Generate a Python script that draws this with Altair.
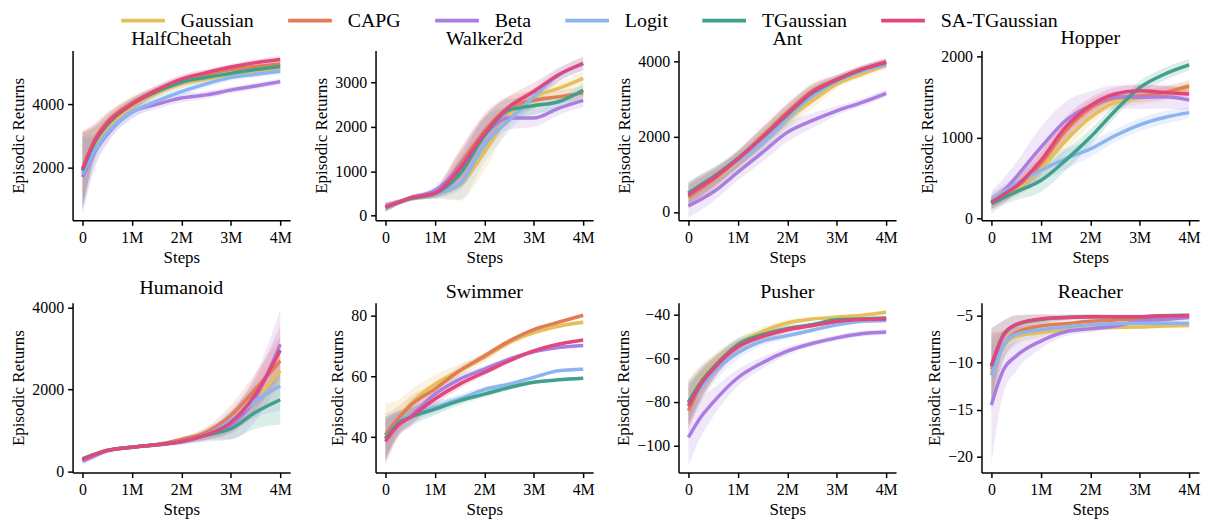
import altair as alt
import pandas as pd

ALGOS = ["Gaussian", "CAPG", "Beta", "Logit", "TGaussian", "SA-TGaussian"]
COLORS = ["#E6BE5A", "#E07D55", "#AA7DE0", "#8CB4F0", "#3FA08C", "#E1467D"]
ENVS = ["HalfCheetah", "Walker2d", "Ant", "Hopper", "Humanoid", "Swimmer", "Pusher", "Reacher"]

# steps in millions
STEPS = [0, 0.25, 0.5, 1, 1.5, 2, 2.5, 3, 3.5, 4]

HALFCHEETAH = {
    "Gaussian": [1900, 2750, 3250, 3950, 4350, 4650, 4800, 4950, 5050, 5120],
    "CAPG": [1950, 2900, 3450, 4050, 4450, 4750, 4950, 5100, 5200, 5280],
    "Beta": [1700, 2500, 3050, 3750, 4000, 4200, 4300, 4450, 4580, 4720],
    "Logit": [1800, 2550, 3100, 3750, 4100, 4400, 4650, 4850, 4950, 5050],
    "TGaussian": [1900, 2800, 3350, 4000, 4400, 4700, 4850, 4980, 5100, 5200],
    "SA-TGaussian": [1950, 2850, 3400, 4000, 4450, 4800, 5000, 5180, 5320, 5420],
}
WALKER2D = {
    "Gaussian": [190, 290, 380, 480, 680, 1420, 2250, 2680, 2870, 3100],
    "CAPG": [190, 290, 390, 500, 1150, 1900, 2450, 2600, 2680, 2770],
    "Beta": [170, 290, 390, 560, 1080, 1820, 2200, 2200, 2420, 2600],
    "Logit": [190, 290, 380, 480, 700, 1600, 2150, 2680, 3165, 3420],
    "TGaussian": [190, 290, 380, 490, 930, 1800, 2380, 2480, 2570, 2830],
    "SA-TGaussian": [190, 290, 390, 500, 1050, 1850, 2450, 2800, 3180, 3440],
}
ANT = {
    "Gaussian": [440, 650, 850, 1350, 1900, 2460, 2940, 3385, 3650, 3885],
    "CAPG": [395, 620, 850, 1400, 2020, 2640, 3210, 3515, 3780, 3980],
    "Beta": [160, 330, 530, 1055, 1580, 2110, 2420, 2680, 2900, 3147],
    "Logit": [510, 720, 920, 1360, 1850, 2500, 3080, 3470, 3735, 3910],
    "TGaussian": [500, 720, 930, 1420, 1980, 2580, 3150, 3500, 3770, 3960],
    "SA-TGaussian": [450, 680, 890, 1400, 1980, 2600, 3170, 3510, 3780, 3970],
}
HOPPER = {
    "Gaussian": [200, 290, 370, 615, 960, 1250, 1435, 1490, 1540, 1620],
    "CAPG": [200, 300, 390, 676, 1085, 1365, 1490, 1517, 1560, 1640],
    "Beta": [200, 340, 512, 880, 1210, 1395, 1505, 1500, 1505, 1465],
    "Logit": [235, 330, 430, 595, 740, 860, 1025, 1160, 1250, 1310],
    "TGaussian": [185, 260, 330, 470, 720, 1005, 1330, 1620, 1785, 1900],
    "SA-TGaussian": [200, 300, 400, 717, 1130, 1395, 1540, 1580, 1560, 1540],
}
HUMANOID = {
    "Gaussian": [305, 420, 520, 600, 660, 740, 900, 1180, 1770, 2470],
    "CAPG": [305, 420, 520, 600, 665, 790, 965, 1370, 2010, 2700],
    "Beta": [260, 390, 510, 600, 655, 740, 895, 1130, 1800, 3100],
    "Logit": [305, 420, 520, 600, 660, 740, 900, 1250, 1730, 2090],
    "TGaussian": [310, 430, 525, 600, 660, 740, 890, 1050, 1450, 1755],
    "SA-TGaussian": [305, 420, 520, 600, 660, 740, 900, 1200, 1890, 2960],
}
SWIMMER = {
    "Gaussian": [40.5, 46, 50.9, 57.4, 61.8, 66.1, 71, 74.3, 76.4, 77.7],
    "CAPG": [40.8, 46, 50.3, 55.8, 61.8, 66.6, 71.5, 75.3, 77.7, 80],
    "Beta": [39.5, 44.8, 47, 54.1, 59, 62.3, 65.6, 68, 69.4, 70.1],
    "Logit": [39.5, 44.4, 47.1, 49.8, 52.5, 55.6, 57.4, 59.6, 61.8, 62.3],
    "TGaussian": [39.5, 44.4, 46.5, 49.2, 52, 54.1, 56.3, 58, 58.8, 59.3],
    "SA-TGaussian": [38.6, 43.8, 46.5, 52.5, 57.4, 61.2, 65, 68.3, 70.5, 71.9],
}
PUSHER = {
    "Gaussian": [-80, -70, -63.5, -53.7, -47.6, -43.8, -42, -41.1, -40.3, -38.9],
    "CAPG": [-84, -72.7, -65, -54.7, -49.9, -46.8, -45, -43, -42.3, -42],
    "Beta": [-96.2, -87, -80.2, -68.9, -62, -56.7, -53.2, -50.6, -48.7, -47.9],
    "Logit": [-81, -73.4, -66.6, -57.5, -52.1, -49.6, -47.1, -44.6, -43, -42.6],
    "TGaussian": [-80.2, -71, -64.3, -53.7, -49.1, -46.4, -44.6, -42.3, -42, -41.5],
    "SA-TGaussian": [-82, -72, -65, -54.7, -49.9, -46.8, -45, -43, -42.2, -42],
}
REACHER = {
    "Gaussian": [-11, -8.2, -7.2, -6.8, -6.5, -6.3, -6.25, -6.2, -6.1, -6.05],
    "CAPG": [-10.7, -8.1, -6.8, -6.1, -5.85, -5.6, -5.45, -5.35, -5.2, -5.07],
    "Beta": [-14.5, -10.7, -9.3, -7.7, -6.7, -6.4, -6.1, -5.6, -5.4, -5.2],
    "Logit": [-11.35, -8.1, -7, -6.5, -6.2, -5.95, -5.85, -5.8, -5.8, -5.8],
    "TGaussian": [-10.4, -7, -5.95, -5.4, -5.2, -5.1, -5.1, -5.1, -5.0, -4.95],
    "SA-TGaussian": [-10.3, -7, -5.95, -5.35, -5.2, -5.1, -5.1, -5.1, -5.0, -5.0],
}

# half-width of the shaded band at each step
SPREAD = {
    "HalfCheetah": [1200, 500, 300, 200, 150, 140, 120, 100, 100, 100],
    "Walker2d": [100, 60, 60, 100, 350, 400, 250, 200, 150, 150],
    "Ant": [300, 280, 250, 220, 250, 250, 200, 120, 100, 100],
    "Hopper": [80, 90, 100, 140, 130, 100, 80, 80, 80, 70],
    "Humanoid": [60, 50, 40, 30, 30, 60, 120, 250, 400, 600],
    "Swimmer": [7, 4, 3, 2, 1.5, 1, 0.8, 0.6, 0.5, 0.5],
    "Pusher": [10, 7, 5, 3, 2, 1.5, 1, 1, 1, 1],
    "Reacher": [4, 1.5, 1, 0.5, 0.3, 0.25, 0.2, 0.2, 0.2, 0.2],
}
SPREAD_SCALE = {
    ("Hopper", "Beta"): 1.8,
    ("Reacher", "Beta"): 1.6,
    ("Pusher", "Beta"): 1.3,
    ("Humanoid", "Beta"): 1.4,
    ("Swimmer", "Gaussian"): 1.5,
}

Y_DOMAIN = {
    "HalfCheetah": [336, 5705],
    "Walker2d": [-112, 3730],
    "Ant": [-219, 4282],
    "Hopper": [-21, 2079],
    "Humanoid": [-17, 4113],
    "Swimmer": [28.35, 84.1],
    "Pusher": [-112.4, -34.5],
    "Reacher": [-21.7, -3.62],
}
Y_TICKS = {
    "HalfCheetah": [2000, 4000],
    "Walker2d": [0, 1000, 2000, 3000],
    "Ant": [0, 2000, 4000],
    "Hopper": [0, 1000, 2000],
    "Humanoid": [0, 2000, 4000],
    "Swimmer": [40, 60, 80],
    "Pusher": [-100, -80, -60, -40],
    "Reacher": [-20, -15, -10, -5],
}
X_TICKS = [0, 1, 2, 3, 4]

DATA = {
    "HalfCheetah": HALFCHEETAH, "Walker2d": WALKER2D, "Ant": ANT, "Hopper": HOPPER,
    "Humanoid": HUMANOID, "Swimmer": SWIMMER, "Pusher": PUSHER, "Reacher": REACHER,
}

rows = []
for env in ENVS:
    for algo in ALGOS:
        k = SPREAD_SCALE.get((env, algo), 1.0)
        for s, m, sp in zip(STEPS, DATA[env][algo], SPREAD[env]):
            rows.append({"env": env, "algo": algo, "step": s, "mean": m,
                         "lo": m - sp * k, "hi": m + sp * k})
df = pd.DataFrame(rows)

FONT = "Liberation Serif"

LEGEND = alt.Legend(
    title=None, orient="none", legendX=47, legendY=0, direction="horizontal",
    symbolType="stroke", symbolSize=1936, symbolStrokeWidth=4, symbolOpacity=1,
    labelFontSize=20, labelFont=FONT, labelOffset=14, columnPadding=32,
    labelColor="black", padding=0, clipHeight=22,
)

# legend-only holder (no rows pass the filter, the legend comes from the scale domain)
legend_chart = alt.Chart(df).transform_filter("false").mark_point().encode(
    x=alt.value(0), y=alt.value(0),
    stroke=alt.Stroke("algo:N", scale=alt.Scale(domain=ALGOS, range=COLORS), legend=LEGEND),
).properties(width=1, height=1)

panels = []
for env in ENVS:
    base = alt.Chart(df).transform_filter(alt.datum.env == env)
    x = alt.X(
        "step:Q",
        scale=alt.Scale(domain=[-0.2, 4.2], nice=False, zero=False),
        axis=alt.Axis(values=X_TICKS, labelExpr="datum.value == 0 ? '0' : datum.value + 'M'",
                      title="Steps"),
    )
    yscale = alt.Scale(domain=Y_DOMAIN[env], nice=False, zero=False)
    yaxis = alt.Axis(values=Y_TICKS[env], format="d", title="Episodic Returns")
    area = base.mark_area(opacity=0.18, interpolate="monotone", clip=True).encode(
        x=x,
        y=alt.Y("lo:Q", scale=yscale, axis=yaxis, stack=None),
        y2="hi:Q",
        fill=alt.Fill("algo:N", scale=alt.Scale(domain=ALGOS, range=COLORS), legend=None),
    )
    line = base.mark_line(strokeWidth=3.5, interpolate="monotone", clip=True).encode(
        x=x,
        y=alt.Y("mean:Q", scale=yscale, axis=yaxis),
        stroke=alt.Stroke("algo:N", scale=alt.Scale(domain=ALGOS, range=COLORS), legend=None),
    )
    panel = alt.layer(area, line).properties(
        width=219, height=171,
        title=alt.TitleParams(text=env, fontSize=20, fontWeight="normal", font=FONT,
                              offset=1, color="black"),
    )
    panels.append(panel)

grid = alt.concat(*panels, columns=4, spacing={"row": 83, "column": 86}, bounds="flush").resolve_scale(
    y="independent", x="independent"
)

chart = alt.vconcat(legend_chart, grid, spacing=40, bounds="flush").resolve_scale(
    stroke="independent", fill="independent", x="independent", y="independent"
).resolve_legend(stroke="independent", fill="independent").properties(
    padding={"left": 2, "top": 0, "right": 2, "bottom": 2}
).configure(font=FONT).configure_view(stroke=None).configure_axis(
    domainColor="black", domainWidth=1.5, tickColor="black", tickWidth=1.5, tickSize=5,
    labelFontSize=16, titleFontSize=17, labelColor="black", titleColor="black",
    titleFontWeight="normal", grid=False, labelPadding=4, titlePadding=4, labelFont=FONT,
    titleFont=FONT,
).configure_title(font=FONT, fontWeight="normal", fontSize=20)

chart.save("out.html", embed_options={"renderer": "svg", "actions": False})
